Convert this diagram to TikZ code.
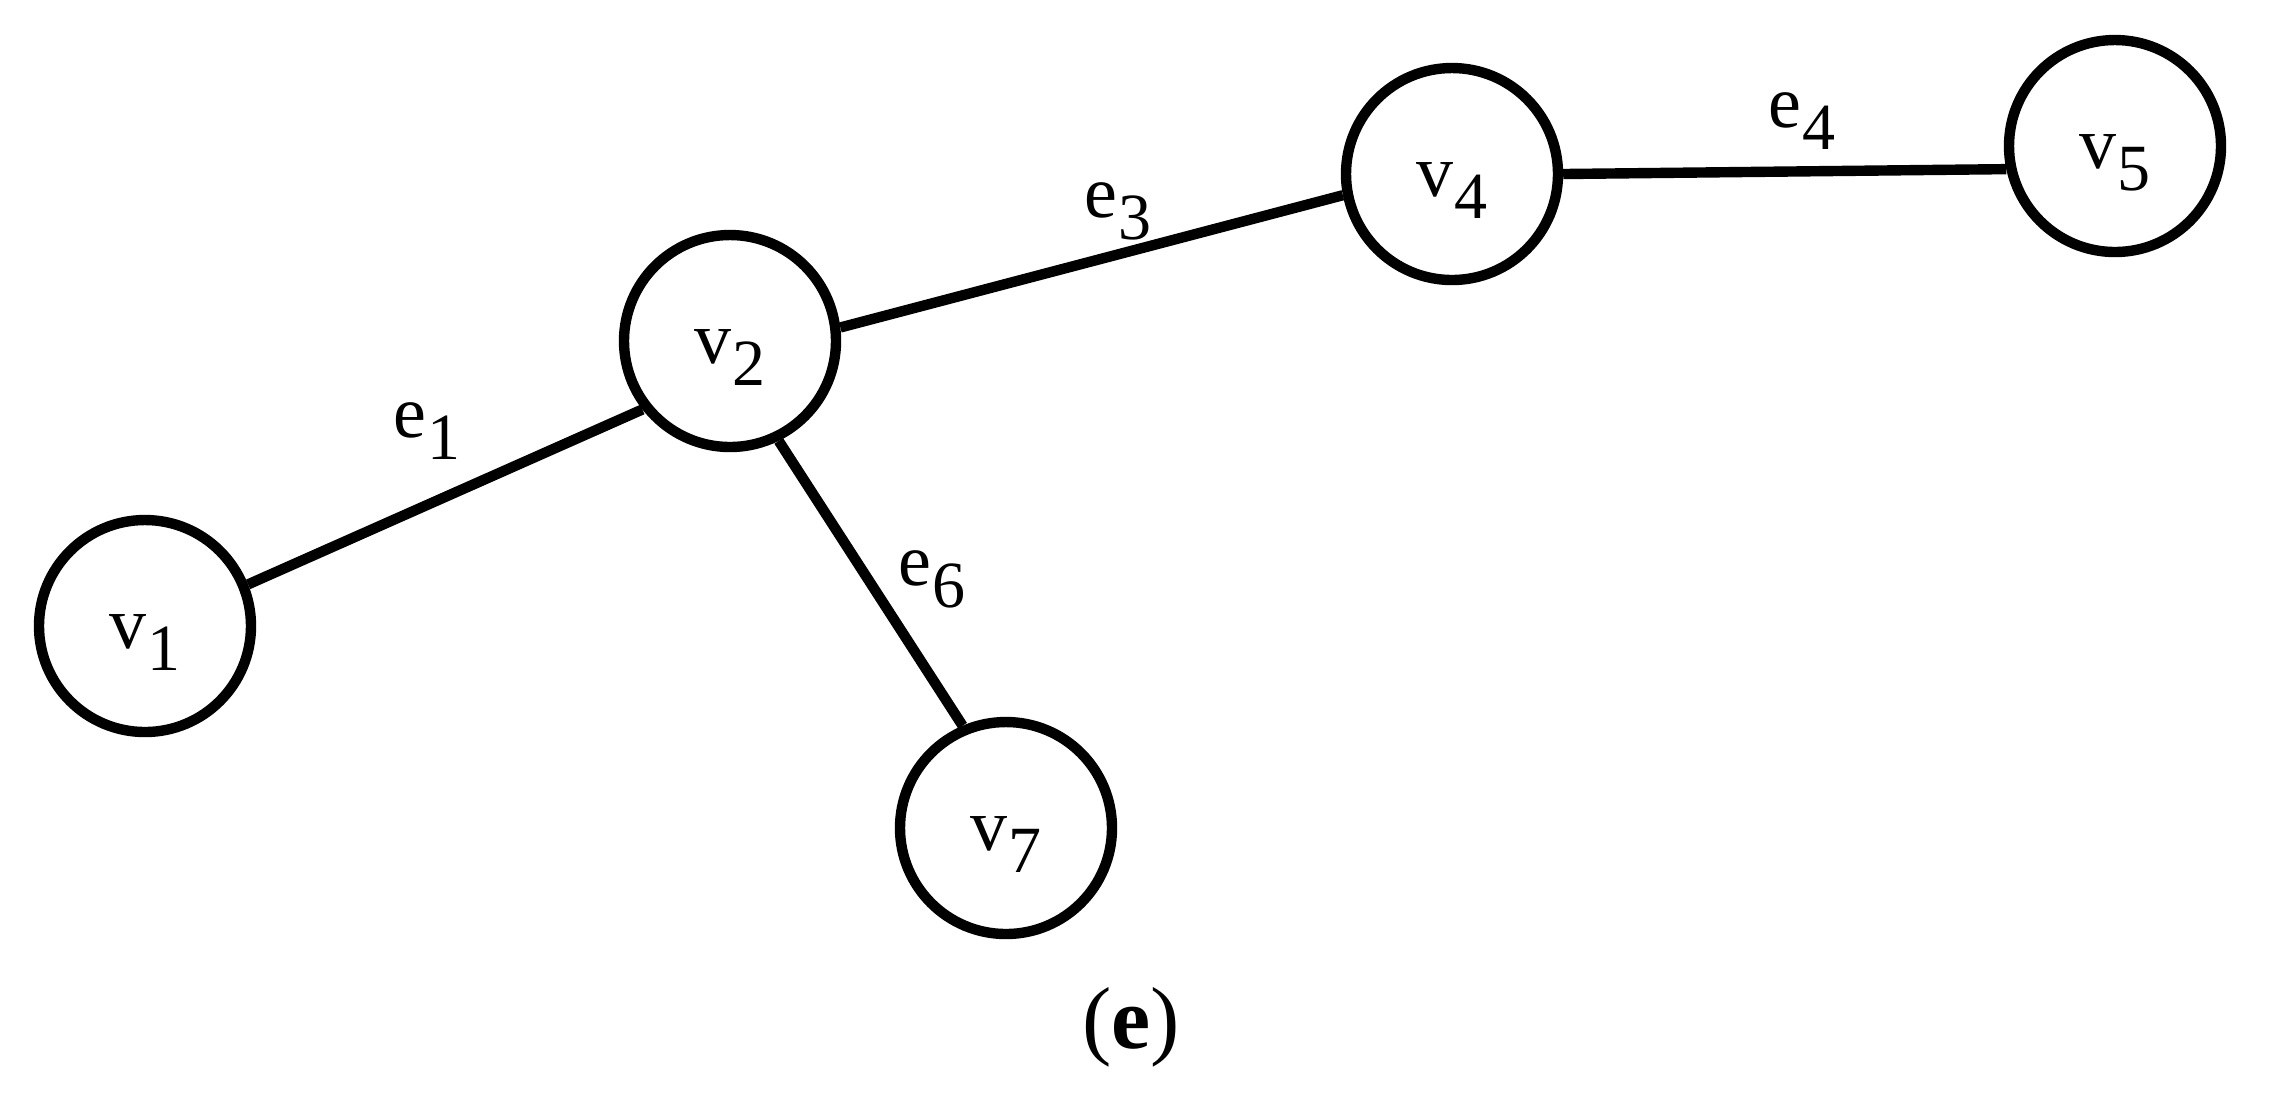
\documentclass[tikz,border=0pt]{standalone}
\usepackage{fontspec}
\setmainfont{Liberation Serif}
\newcommand{\sublab}[2]{#1\kern0.3pt\raisebox{-5.5pt}{\fontsize{16.5}{18}\selectfont #2}}
\begin{document}
\begin{tikzpicture}[x=0.25pt,y=-0.25pt,
  vert/.style={circle, draw, line width=2.6pt, minimum size=53pt, inner sep=0pt,
    text height=11pt, text depth=0pt, font=\fontsize{18.5}{20}\selectfont},
  elab/.style={anchor=base, inner sep=0pt, font=\fontsize{18.5}{20}\selectfont},
  edgeline/.style={line width=2.6pt}]
\useasboundingbox (0,0) rectangle (2280,1097);
\node[vert] (v1) at (145,626) {\sublab{v}{1}};
\node[vert] (v2) at (730,341) {\sublab{v}{2}};
\node[vert] (v4) at (1452,174) {\sublab{v}{4}};
\node[vert] (v5) at (2115,146) {\sublab{v}{5}};
\node[vert] (v7) at (1006,828) {\sublab{v}{7}};
\draw[edgeline] (v1.22) -- (v2.218);
\draw[edgeline] (v2.7) -- (v4.191);
\draw[edgeline] (v4.0) -- (v5.192);
\draw[edgeline] (v2.296) -- (v7.113);
\node[elab] (e1) at (427,437) {\sublab{e}{1}};
\node[elab] (e3) at (1118,217) {\sublab{e}{3}};
\node[elab] (e4) at (1802,127) {\sublab{e}{4}};
\node[elab] (e6) at (932,585) {\sublab{e}{6}};
\node[anchor=base, inner sep=0pt, font=\fontsize{22}{24}\selectfont] (cap) at (1131,1048) {(\textbf{e})};
\end{tikzpicture}
\end{document}
